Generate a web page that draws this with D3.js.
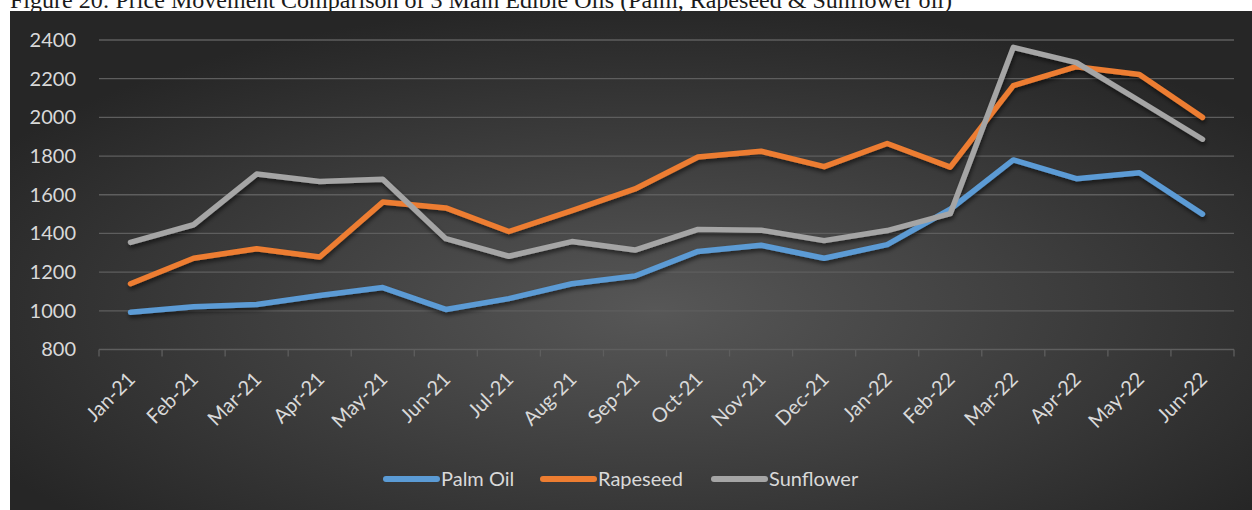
<!DOCTYPE html>
<html>
<head>
<meta charset="utf-8">
<script src="https://cdn.jsdelivr.net/npm/d3@7/dist/d3.min.js"></script>
<style>
  html, body { margin: 0; padding: 0; background: #ffffff; }
  svg { display: block; }
</style>
</head>
<body>
<svg id="chart" width="1252" height="510"></svg>
<script>
// Monthly prices (USD/tonne) of the three main edible oils
const months = ["Jan-21","Feb-21","Mar-21","Apr-21","May-21","Jun-21","Jul-21","Aug-21","Sep-21",
                "Oct-21","Nov-21","Dec-21","Jan-22","Feb-22","Mar-22","Apr-22","May-22","Jun-22"];
const palmOil   = [992, 1021, 1033, 1079, 1120, 1007, 1063, 1140, 1180, 1307, 1339, 1272, 1342, 1525, 1780, 1683, 1714, 1500];
const rapeseed  = [1140, 1272, 1321, 1278, 1562, 1532, 1410, 1518, 1630, 1795, 1825, 1745, 1865, 1743, 2164, 2262, 2222, 2000];
const sunflower = [1354, 1445, 1707, 1668, 1680, 1373, 1282, 1358, 1314, 1421, 1417, 1363, 1415, 1502, 2362, 2283, 2086, 1887];
const yTicks = [800, 1000, 1200, 1400, 1600, 1800, 2000, 2200, 2400];
const seriesNames = ["Palm Oil", "Rapeseed", "Sunflower"];
const seriesColors = ["#5B9BD5", "#ED7D31", "#A5A5A5"];

const series = [palmOil, rapeseed, sunflower].map((values, i) => ({
  name: seriesNames[i], color: seriesColors[i], values
}));

const svg = d3.select("#chart");
const defs = svg.append("defs");

// Dark radial backdrop
const grad = defs.append("radialGradient").attr("id", "bg")
  .attr("cx", "52%").attr("cy", "60%").attr("r", "62%");
grad.append("stop").attr("offset", "0%").attr("stop-color", "#575757");
grad.append("stop").attr("offset", "100%").attr("stop-color", "#262626");

// Soft shadow under the lines
const shadow = defs.append("filter").attr("id", "shadow")
  .attr("x", "-5%").attr("y", "-10%").attr("width", "110%").attr("height", "130%");
shadow.append("feDropShadow").attr("dx", 1).attr("dy", 3).attr("stdDeviation", 2.2)
  .attr("flood-color", "#000").attr("flood-opacity", 0.55);

// Title above the chart box (its top runs off the page edge)
svg.append("text")
  .attr("x", 10).attr("y", 8)
  .attr("font-family", "'Liberation Serif', 'Times New Roman', serif")
  .attr("font-size", 23).attr("fill", "#1a1a1a")
  .attr("textLength", 942).attr("lengthAdjust", "spacingAndGlyphs")
  .text("Figure 20: Price Movement Comparison of 3 Main Edible Oils (Palm, Rapeseed & Sunflower oil)");

svg.append("rect").attr("x", 10).attr("y", 11).attr("width", 1242).attr("height", 499)
  .attr("fill", "url(#bg)");

const x = d3.scaleBand().domain(months).range([99, 1234]).padding(0);
const y = d3.scaleLinear().domain([800, 2400]).range([349.5, 40]);
const cx = m => x(m) + x.bandwidth() / 2;

const labelFont = "Lato, 'Open Sans', sans-serif";
const textColor = "#d9d9d9";
const gridColor = "#5e5e5e";

// Horizontal gridlines
svg.append("g").selectAll("line").data(yTicks.filter(t => t > 800)).join("line")
  .attr("x1", 99).attr("x2", 1234)
  .attr("y1", d => y(d)).attr("y2", d => y(d))
  .attr("stroke", gridColor).attr("stroke-width", 1.3);

// Y axis labels
const yAxis = svg.append("g").attr("transform", "translate(99,0)")
  .call(d3.axisLeft(y).tickValues(yTicks).tickSize(0).tickPadding(23).tickFormat(d3.format("d")));
yAxis.select(".domain").remove();
yAxis.selectAll("text")
  .attr("font-family", labelFont).attr("font-size", 20).attr("fill", textColor);

// X axis with ticks between categories
const xAxisG = svg.append("g").attr("transform", `translate(0,${y(800)})`);
xAxisG.append("line").attr("x1", 99).attr("x2", 1234).attr("y1", 0).attr("y2", 0)
  .attr("stroke", gridColor).attr("stroke-width", 1.3);
xAxisG.selectAll("line.tick").data(months.concat(["__end"])).join("line")
  .attr("class", "tick")
  .attr("x1", (d, i) => i < months.length ? x(d) : 1234)
  .attr("x2", (d, i) => i < months.length ? x(d) : 1234)
  .attr("y1", 0).attr("y2", 7)
  .attr("stroke", gridColor).attr("stroke-width", 1.3);
xAxisG.selectAll("text").data(months).join("text")
  .attr("transform", d => `translate(${cx(d) + 1},${26}) rotate(-45)`)
  .attr("text-anchor", "end").attr("dy", "0.35em")
  .attr("font-family", labelFont).attr("font-size", 20).attr("fill", textColor)
  .text(d => d);

// Series lines
const line = d3.line().x((d, i) => cx(months[i])).y(d => y(d));
svg.append("g").attr("filter", "url(#shadow)")
  .selectAll("path").data(series).join("path")
  .attr("d", s => line(s.values))
  .attr("fill", "none").attr("stroke", s => s.color)
  .attr("stroke-width", 5.5).attr("stroke-linejoin", "round").attr("stroke-linecap", "round");

// Legend
const legendX = [386, 543, 714];
const legend = svg.append("g").selectAll("g").data(series).join("g")
  .attr("transform", (s, i) => `translate(${legendX[i]},479)`);
legend.append("line").attr("x1", 0).attr("x2", 51).attr("y1", 0).attr("y2", 0)
  .attr("stroke", s => s.color).attr("stroke-width", 6).attr("stroke-linecap", "round");
legend.append("text").attr("x", 55).attr("dy", "0.35em")
  .attr("font-family", labelFont).attr("font-size", 20).attr("fill", textColor)
  .text(s => s.name);
</script>
</body>
</html>
